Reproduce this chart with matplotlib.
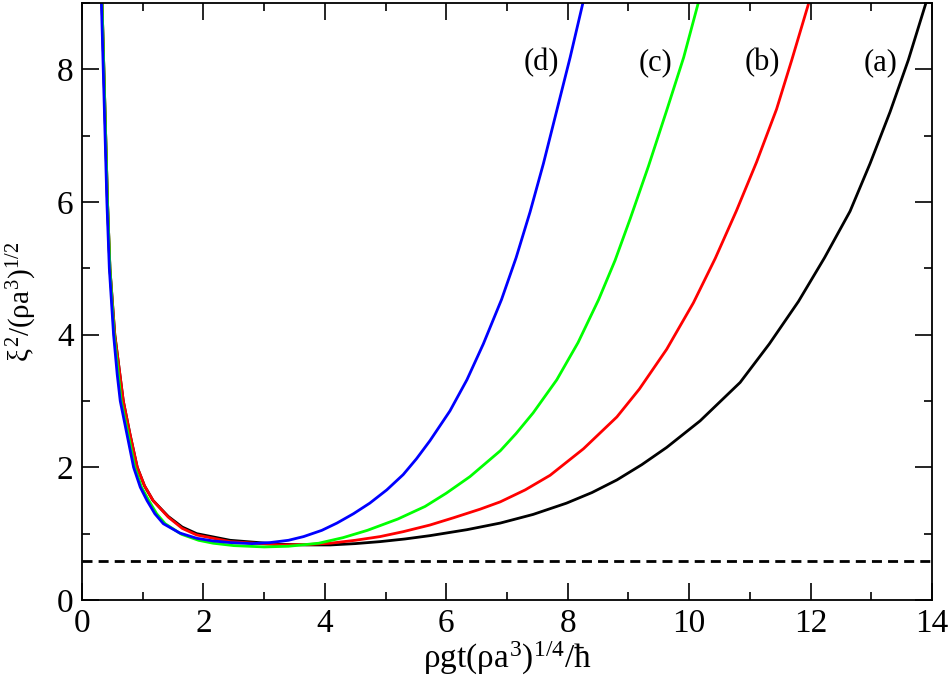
import matplotlib
matplotlib.use("Agg")
import matplotlib.pyplot as plt
from matplotlib.ticker import MultipleLocator

plt.rcParams["font.family"] = ["Liberation Serif", "DejaVu Serif"]
plt.rcParams["mathtext.fontset"] = "custom"
plt.rcParams["mathtext.rm"] = "Liberation Serif"
plt.rcParams["mathtext.it"] = "Liberation Serif"
plt.rcParams["mathtext.bf"] = "Liberation Serif:bold"

# curve (a), black
a_x = [0.33, 0.36, 0.39, 0.42, 0.46, 0.54, 0.68, 0.79, 0.91, 1.03, 1.17, 1.42,
       1.65, 1.89, 2.44, 3.26, 3.70, 4.09, 4.50, 4.91, 5.32, 5.73, 6.34, 6.89,
       7.43, 7.98, 8.40, 8.81, 9.22, 9.63, 10.18, 10.84, 11.32, 11.80, 12.23,
       12.65, 12.98, 13.31, 13.61, 13.90]
a_y = [9.0, 8.0, 7.0, 6.0, 5.0, 4.0, 3.0, 2.5, 2.0, 1.72, 1.50, 1.26,
       1.10, 1.00, 0.90, 0.84, 0.83, 0.83, 0.85, 0.88, 0.92, 0.97, 1.06, 1.16,
       1.29, 1.46, 1.62, 1.81, 2.04, 2.30, 2.70, 3.28, 3.86, 4.50, 5.16,
       5.86, 6.58, 7.36, 8.14, 9.0]

# curve (b), red
b_x = [0.33, 0.36, 0.39, 0.42, 0.46, 0.54, 0.68, 0.79, 0.91, 1.03, 1.17, 1.42,
       1.65, 1.89, 2.44, 3.26, 3.70, 4.09, 4.50, 4.91, 5.29, 5.73, 6.12, 6.56,
       6.89, 7.30, 7.71, 8.26, 8.81, 9.18, 9.63, 10.07, 10.43, 10.78, 11.11,
       11.44, 11.69, 11.97]
b_y = [9.0, 8.0, 7.0, 6.0, 5.0, 4.0, 3.0, 2.5, 2.0, 1.72, 1.50, 1.25,
       1.08, 0.98, 0.88, 0.83, 0.835, 0.856, 0.90, 0.956, 1.03, 1.13, 1.24, 1.37,
       1.48, 1.66, 1.88, 2.28, 2.76, 3.18, 3.78, 4.48, 5.15, 5.87, 6.60,
       7.40, 8.14, 9.0]

# curve (c), green
c_x = [0.33, 0.36, 0.39, 0.42, 0.46, 0.53, 0.645, 0.76, 0.87, 0.98, 1.10, 1.23,
       1.37, 1.64, 1.92, 2.16, 2.50, 3.00, 3.40, 3.90, 4.30, 4.70, 5.20, 5.65,
       6.00, 6.39, 6.89, 7.15, 7.43, 7.82, 8.17, 8.51, 8.78, 9.03, 9.33, 9.63,
       9.91, 10.15]
c_y = [9.0, 8.0, 7.0, 6.0, 5.0, 4.0, 3.0, 2.5, 2.0, 1.70, 1.50, 1.30,
       1.15, 0.99, 0.90, 0.856, 0.82, 0.80, 0.81, 0.856, 0.94, 1.05, 1.22, 1.41,
       1.61, 1.86, 2.25, 2.51, 2.82, 3.32, 3.88, 4.53, 5.12, 5.75, 6.54, 7.38,
       8.18, 9.0]

# curve (d), blue
d_x = [0.32, 0.35, 0.38, 0.41, 0.45, 0.52, 0.58, 0.63, 0.74, 0.85, 0.96, 1.07,
       1.20, 1.34, 1.61, 1.89, 2.16, 2.44, 2.80, 3.10, 3.40, 3.65, 3.95, 4.20,
       4.47, 4.74, 5.02, 5.29, 5.51, 5.73, 6.06, 6.34, 6.61, 6.91, 7.15, 7.38,
       7.60, 7.82, 8.04, 8.25]
d_y = [9.0, 8.0, 7.0, 6.0, 5.0, 4.0, 3.4, 3.0, 2.5, 2.0, 1.70, 1.50,
       1.30, 1.15, 1.01, 0.93, 0.89, 0.866, 0.85, 0.866, 0.90, 0.956, 1.05, 1.16,
       1.30, 1.46, 1.66, 1.89, 2.13, 2.40, 2.85, 3.32, 3.86, 4.53, 5.16, 5.85,
       6.58, 7.38, 8.18, 9.0]

limit_y = 0.59

labels = ["(a)", "(b)", "(c)", "(d)"]
label_x = [13.16, 11.21, 9.45, 7.57]
label_y = 8.1

fig = plt.figure(figsize=(9.52, 6.88), dpi=100)
ax = fig.add_axes([82 / 952, 88 / 688, 850 / 952, 597 / 688])

ax.plot(a_x, a_y, color="black", lw=2.0)
ax.plot(b_x, b_y, color="#ff0000", lw=2.0)
ax.plot(c_x, c_y, color="#00ff00", lw=2.0)
ax.plot(d_x, d_y, color="#0000ff", lw=2.0)
ax.axhline(limit_y, color="black", lw=2.0, linestyle=(0, (3.6, 2.2)))

for txt, lx in zip(labels, label_x):
    ax.text(lx, label_y, txt, fontsize=22, ha="center", va="center")

ax.set_xlim(0, 14)
ax.set_ylim(0, 9)
ax.xaxis.set_major_locator(MultipleLocator(2))
ax.xaxis.set_minor_locator(MultipleLocator(1))
ax.yaxis.set_major_locator(MultipleLocator(2))
ax.yaxis.set_minor_locator(MultipleLocator(1))
ax.tick_params(which="both", direction="in", top=True, right=True, width=1.2)
ax.tick_params(which="major", length=12, labelsize=24, pad=6)
ax.tick_params(which="minor", length=6)
for sp in ax.spines.values():
    sp.set_linewidth(1.3)

ax.set_xlabel(r"$\rho gt(\rho a^3)^{1/4}/\hbar$", fontsize=24, labelpad=1)
ax.set_ylabel(r"$\xi^2/(\rho a^3)^{1/2}$", fontsize=21)
ax.yaxis.set_label_coords(-0.05, 0.5)

fig.savefig("out.png", dpi=100)
